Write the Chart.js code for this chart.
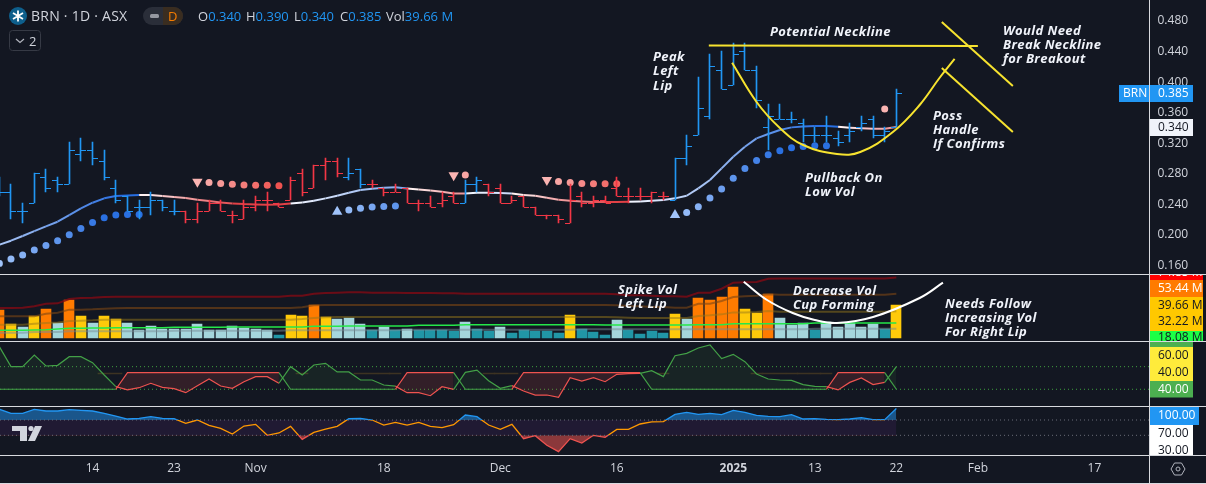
<!DOCTYPE html>
<html>
<head>
<meta charset="utf-8">
<script src="https://cdn.jsdelivr.net/npm/chart.js@4"></script>
<style>
  html, body { margin: 0; padding: 0; background: #131722; overflow: hidden; }
  #wrap { position: relative; width: 1206px; height: 484px; font-family: "Open Sans", sans-serif; }
  #chart { position: absolute; left: 0; top: 0; }
  .hd { position: absolute; white-space: nowrap; color: #d1d4dc; font-size: 13px; line-height: 18px; top: 7px; }
  .v { color: #2196f3; }
</style>
</head>
<body>
<div id="wrap">
  <canvas id="chart" width="1206" height="484"></canvas>
  <svg style="position:absolute;left:0;top:0" width="190" height="54">
    <circle cx="18" cy="16" r="9" fill="#0e5f8c"/>
    <path d="M18 10.5v11M13 13l10 6M23 13l-10 6" stroke="#fff" stroke-width="1.8"/>
    <rect x="143" y="7" width="40" height="18" rx="9" fill="#2a2e39"/>
    <path d="M163 7h11a9 9 0 0 1 0 18h-11z" fill="#3a2d20"/>
    <rect x="150" y="14" width="9" height="4" rx="1.5" fill="#9598a1"/>
    <rect x="9.5" y="30.5" width="31" height="20" rx="3" fill="none" stroke="#363a45"/>
    <path d="M16 39l4 3.5 4-3.5" fill="none" stroke="#b2b5be" stroke-width="1.2"/>
  </svg>
  <div class="hd" style="left:31px;font-size:14px;letter-spacing:.25px">BRN · 1D · ASX</div>
  <div class="hd" style="left:168px;color:#f57c00">D</div>
  <div class="hd" style="left:29px;top:32px">2</div>
  <div class="hd" style="left:198px">O<span class="v">0.340</span></div>
  <div class="hd" style="left:246px">H<span class="v">0.390</span></div>
  <div class="hd" style="left:294px">L<span class="v">0.340</span></div>
  <div class="hd" style="left:340px">C<span class="v">0.385</span></div>
  <div class="hd" style="left:386px">Vol<span class="v">39.66 M</span></div>
</div>
<script>
/*globals Chart*/
var _ = null;

// x axis: bar number of each date label
var tickBars = [8, 15, 22, 33, 43, 53, 63, 70, 77, 84, 94];
var tickNames = ["14", "23", "Nov", "18", "Dec", "16", "2025", "13", "22", "Feb", "17"];

var priceTicks = [0.16, 0.2, 0.24, 0.28, 0.32, 0.36, 0.4, 0.44, 0.48];

var opens = [.26,.255,.23,.24,.275,.27,.265,.305,.31,.295,.26,.25,.235,.235,.245,.23,.23,.22,.23,.24,.225,.22,.235,.245,.24,.245,.28,.26,.29,.295,.275,.285,.265,.26,.255,.26,.24,.24,.24,.25,.24,.265,.265,.26,.24,.25,.235,.225,.225,.215,.25,.24,.245,.26,.25,.25,.25,.25,.245,.30,.33,.355,.415,.395,.44,.415,.34,.35,.35,.345,.33,.33,.325,.33,.34,.35,.33,.34];
var highs = [.275,.265,.24,.28,.285,.275,.32,.325,.32,.31,.27,.25,.245,.255,.245,.245,.23,.24,.245,.245,.23,.245,.25,.255,.24,.275,.285,.29,.30,.30,.30,.285,.27,.26,.265,.26,.245,.25,.255,.255,.27,.275,.265,.265,.25,.25,.235,.225,.225,.265,.255,.25,.25,.275,.26,.26,.255,.255,.30,.33,.405,.435,.44,.45,.45,.42,.37,.37,.36,.35,.34,.355,.335,.345,.355,.355,.34,.39];
var lows = [.25,.22,.215,.24,.255,.255,.265,.295,.29,.27,.24,.23,.22,.225,.23,.225,.215,.215,.23,.23,.215,.22,.23,.23,.235,.245,.25,.26,.27,.275,.27,.26,.26,.25,.255,.24,.23,.235,.235,.24,.24,.255,.25,.24,.24,.235,.225,.22,.215,.215,.235,.235,.24,.25,.24,.245,.24,.245,.245,.29,.33,.35,.39,.395,.415,.365,.31,.35,.345,.32,.32,.32,.315,.32,.335,.325,.32,.34];
var closes = [.255,.23,.23,.28,.26,.265,.31,.31,.30,.275,.245,.23,.235,.245,.235,.23,.22,.23,.24,.23,.225,.235,.245,.245,.235,.27,.255,.29,.295,.28,.28,.265,.265,.255,.255,.24,.24,.235,.245,.24,.265,.27,.255,.24,.245,.235,.225,.225,.22,.245,.24,.245,.24,.25,.25,.25,.255,.25,.30,.315,.365,.42,.39,.435,.415,.375,.355,.35,.35,.33,.33,.33,.32,.335,.345,.33,.335,.385];
// bars painted blue, the rest are red
var blueBars = [0,1,2,3,4,5,6,7,8,9,10,11,12,13,14,15,30,31,40,41,58,59,60,61,62,63,64,65,66,67,68,69,70,71,72,73,74,75,76,77];

var maLine = [.186,.1912,.1973,.2038,.2099,.216,.2247,.2335,.2409,.2466,.2496,.2505,.2509,.2509,.2496,.2483,.247,.2448,.2431,.2413,.24,.2391,.2387,.2383,.2387,.24,.2413,.2435,.2466,.25,.254,.2575,.2592,.2605,.261,.2596,.2583,.257,.2553,.2531,.2531,.254,.254,.2535,.2531,.2509,.25,.2474,.2448,.2435,.2426,.2418,.2418,.2418,.2422,.2426,.2435,.2444,.2466,.25,.2597,.2706,.2858,.3011,.3142,.3251,.3308,.336,.3395,.3408,.3413,.3413,.3404,.3391,.3382,.3378,.3378,.34];
// bars where the ma trend flips, starting with an up run that began off screen
var maFlips = [-6, 12, 25, 35, 40, 44, 54, 72, 77];

var upDots = [.1615,.1672,.1724,.1789,.185,.1911,.199,.2073,.2151,.2213,.2247,.2256,.2256,_,_,_,_,_,_,_,_,_,_,_,_,_,_,_,_,.2291,.2313,.2335,.2352,.2361,.2365,_,_,_,_,_,_,_,_,_,_,_,_,_,_,_,_,_,_,_,_,_,_,_,.2247,.2282,.2357,.247,.2588,.2728,.2858,.2963,.3037,.309,.3129,.3146,.3155,.3155,_,_,_,_,_,_];
var downDots = [_,_,_,_,_,_,_,_,_,_,_,_,_,_,_,_,_,.2684,.2675,.2662,.2649,.264,.2636,.2636,.2631,_,_,_,_,_,_,_,_,_,_,_,_,_,_,.2767,.2771,_,_,_,_,_,_,.2705,.2688,.2675,.2662,.2658,.2658,.2658,_,_,_,_,_,_,_,_,_,_,_,_,_,_,_,_,_,_,_,_,_,_,.3635,_];

var neckX = [60.9, 84];
var neckY = [.4466, .446];
var cupX = [62.9, 65, 67, 69, 71.9, 73.9, 76.7, 79, 80.7, 82];
var cupY = [.4241, .3727, .3387, .3164, .3046, .3072, .3334, .3688, .4041, .429];
var slashX = [80.9, 87];
var slashTopY = [.4774, .3936];
var slashLowY = [.4172, .3334];

var volumes = [33.4,16.5,13.3,26.6,34.7,17.7,45.5,26.2,17.7,26.2,22.6,17.7,9.3,14.1,10.5,10.5,10.5,16.5,9.3,9.3,14.1,11.7,10.5,9.3,3.2,27.4,26.2,39.5,25,22.6,23.8,16.5,9.3,12.9,9.7,10.5,9.7,9.7,9.7,8.1,18.9,10.5,8.1,12.9,5.6,9.3,8.1,8.1,5.6,27.4,10.5,6.9,3.2,21.4,9.3,4.4,8.1,5.6,28.6,22.6,48,45.5,49.2,61.3,34.7,29.8,52.8,23.8,15.3,17.7,9.3,18.9,12.9,17.7,12.9,16.5,10.5,39.66];
// 0 low, 1 normal, 2 high, 3 very high
var volClass = [3,2,1,2,3,1,3,2,1,2,2,1,1,1,1,1,1,1,1,1,1,1,1,1,0,2,2,3,2,1,1,1,0,1,0,1,0,0,0,0,1,0,0,1,0,0,0,0,0,2,0,0,0,1,0,0,0,0,2,1,3,3,3,3,2,2,3,1,1,1,0,1,1,1,1,1,0,2];
var volRed = [36.3,36.3,36.7,38.3,41.5,41.9,47.2,48.4,48.8,49.6,50,50,50,50,50,50,50,50,50,50,50,50,50,50,50,51.2,51.2,53.6,54.4,54.8,55.2,55.2,54.8,54.8,54.8,54.4,54.4,54.4,54,54,53.6,53.6,53.6,53.6,53.6,53.6,53.6,53.6,53.6,53.6,53.6,53.6,53.6,52.8,51.6,51.6,51.2,50.4,50.4,50,54.8,54.8,59.6,66.9,67.3,67.7,71.7,72.1,72.1,72.1,72.1,72.1,72.1,72.1,72.1,72.1,72.1,73.3];
var volOrange = [26.2,26.2,26.2,26.2,29.4,30.6,34.3,34.3,34.7,35.5,35.9,36.3,36.3,36.3,36.3,36.3,36.3,36.3,36.3,36.3,36.3,36.3,36.3,36.3,36.3,36.3,37.1,39.5,39.9,39.9,39.9,39.9,39.9,39.9,39.9,39.9,39.9,39.9,39.9,39.9,39.9,39.9,39.9,39.9,39.9,39.9,39.9,39.9,39.9,39.9,39.9,39.9,39.9,39.5,38.7,38.3,37.5,37.5,36.7,36.7,41.5,41.5,44.7,49.6,50.4,51.2,52.8,52.4,52.4,52.4,52.4,52.4,52.4,52.4,52.4,52.4,52.4,53.44];
var volYellow = [16.1,16.1,16.1,17.3,18.1,18.9,20.6,21,21.4,22.2,22.2,22.2,22.2,22.2,22.2,22.2,22.2,22.2,22.2,22.2,22.2,22.2,22.2,22.2,22.2,22.2,23,24.2,25,25.4,25.4,25.4,25.4,25.4,25.4,25.4,25.4,25.4,25.4,25.4,25.4,25.4,25.4,25.4,25.4,25.4,25.4,25.4,25.4,25.4,25.4,25.4,25.4,25,24.6,24.2,24.2,24.2,24.2,24.2,26.6,27.4,28.6,31,31,31.4,32.6,31.8,31.8,31.8,31.8,31.8,31.8,31.8,31.8,31.8,31.8,32.22];
var volGreen = [9.3,9.3,9.3,9.7,10.1,10.9,11.7,11.7,12.1,12.1,12.5,12.5,12.5,12.5,12.5,12.9,12.9,12.9,12.9,12.9,13.3,13.3,13.3,13.3,13.3,13.3,13.3,14.1,14.1,14.1,14.5,14.5,14.5,14.5,14.5,14.5,15.3,15.3,15.3,15.3,16.1,16.1,16.1,16.1,16.1,16.1,16.1,16.1,16.1,16.1,16.1,16.1,15.7,15.7,15.7,15.7,15.7,15.7,15.7,15.7,16.1,16.1,16.1,17.3,17.3,17.3,17.3,17.3,17.3,17.3,18.1,18.1,18.1,18.1,18.1,18.1,18.1,18.08];
var volGrey = [6.4,6.4,6.4,7.3,7.3,7.3,8.1,8.1,8.1,8.1,8.1,8.1,8.1,8.1,8.1,8.9,8.9,8.9,8.9,8.9,8.9,8.9,8.9,8.9,8.9,9.3,9.3,9.3,9.3,9.3,9.3,9.3,9.3,9.3,9.3,10.1,10.1,10.1,10.1,10.1,10.1,10.1,10.1,10.1,10.1,10.1,10.1,10.1,10.1,10.1,10.5,10.5,10.5,10.5,10.5,10.5,10.5,10.5,10.5,10.5,10.5,10.5,10.5,10.5,10.5,10.5,10.5,10.5,10.5,10.5,11.3,11.3,11.3,11.3,11.3,11.3,11.3,11.3];
var volCurveX = [63.9, 65.9, 68.1, 70, 71.9, 75, 79, 81];
var volCurveY = [68.1, 46, 30.3, 21.8, 18.2, 25.4, 48.4, 66.9];

var dmiMain = [77.7,60,60,70.3,60.6,61.2,68.8,68.8,63.5,52.6,42.3,39.4,41.4,45.3,41.7,40.5,37,43.2,49.1,42.9,40.8,46.7,51.2,51.2,45.3,60,52.6,61.5,62.9,55.3,55.3,48.2,48.2,43.8,42.8,37,37,34.3,42.3,39.9,55,57,47.6,40.8,43.2,38.5,34.9,34.9,32.9,50.3,47.3,50.3,46.7,53.2,53.8,54.1,56.5,51.2,69.7,71.8,76.5,79.2,67.1,70.9,64.4,53.5,49.1,48.2,47.9,44.1,42.6,42.3,39.4,46.1,50,44.1,46.1,60];
var dmiBase = [40,40,40,40,40,40,40,40,40,40,40,54.7,54.7,54.7,54.7,54.7,54.7,54.7,54.7,54.7,54.7,54.7,54.7,54.7,54.7,40,40,40,40,40,40,40,40,40,40,54.7,54.7,54.7,54.7,54.7,40,40,40,40,40,54.7,54.7,54.7,54.7,54.7,54.7,54.7,54.7,54.7,54.7,54.7,40,40,40,40,40,40,40,40,40,40,40,40,40,40,40,40,54.7,54.7,54.7,54.7,54.7,40];
var dmiShade = [_,_,_,_,_,_,_,_,_,54,54,_,_,_,_,_,_,_,_,_,_,_,_,_,_,_,54,_,_,_,_,54,54,54,54,_,_,_,_,_,_,_,54,54,54,_,_,_,_,_,_,_,_,_,_,_,_,54,_,_,_,_,_,_,_,54,54,54,54,54,54,54,_,_,_,_,_,_];
var dmiLevels = [60, 40];

var rsiLine = [97.9,87.4,87.4,97.9,93.5,93.5,97,95.2,93.5,87.4,80.4,72.6,74.4,78.7,74.4,73.5,61.3,70,56.1,48.2,33.4,54.3,58.7,30,36.1,53.5,19.5,37.8,46.5,53.5,73.5,74.4,70,56.9,63.9,56.9,63.9,53.5,50,57.8,83.1,78.7,56.9,45.6,58.7,21.3,29.1,3.9,-12.7,21.3,9.9,30,24.8,45.6,45.6,59.6,65,65.7,84.8,90,84.8,87.4,84,95.2,90,82.2,79.6,78.7,83.9,72.6,73.5,71.7,70.9,72.6,76.1,70.9,70.9,100];
var rsiLevels = [70, 30];

var volColors = ["#2196a6", "#a5d6dc", "#ffca0a", "#ff7b00"];
var xMin = 0.056, xMax = 98.73;
var blue = "#2196f3", red = "#f23645";

function toXY(arr) {
    return arr.map(function (y, i) { return {x: i, y: y}; });
}
function pairXY(xs, ys) {
    return xs.map(function (x, i) { return {x: x, y: ys[i]}; });
}
function mix(a, b, t) {
    var out = [];
    for (let i = 0; i < 3; i++) { out.push(Math.round(a[i] + (b[i] - a[i]) * t)); }
    return "rgb(" + out.join(",") + ")";
}

function maColor(ctx) {
    let i = ctx.p0DataIndex, run = 0, up = true;
    for (let k = 0; k < maFlips.length; k++) {
        if (maFlips[k] <= i) { run = i - maFlips[k]; up = k % 2 == 0; }
    }
    return up ? mix([240, 244, 255], [40, 110, 225], Math.min(1, run / 16))
              : mix([255, 240, 240], [225, 65, 70], Math.min(1, run / 8));
}

// dots get stronger the longer the run goes on
function dotRun(arr, i) {
    let n = 0;
    while (i - n - 1 >= 0 && arr[i - n - 1] !== null) { n++; }
    return n;
}
function isTriangle(arr, i) {
    return i > 0 && arr[i - 1] === null && arr[i + 1] !== null && arr[i + 1] !== undefined;
}
function lineSet(data, yAxisID, color, width, order, extra) {
    return Object.assign({type: "line", data: data, yAxisID: yAxisID, borderColor: color, borderWidth: width,
        pointRadius: 0, tension: 0, fill: false, order: order}, extra || {});
}
function levelSet(value, yAxisID, color) {
    return lineSet(pairXY([xMin, xMax], [value, value]), yAxisID, color, 1, 20, {borderDash: [1, 3]});
}
function rsiGradient(ctx) {
    let chart = ctx.chart, s = chart.scales.yRsi;
    if (!s || !chart.chartArea || !isFinite(s.top) || !isFinite(s.bottom)) { return blue; }
    let g = chart.ctx.createLinearGradient(0, s.top, 0, s.bottom);
    let a = (s.getPixelForValue(70) - s.top) / s.height, b = (s.getPixelForValue(30) - s.top) / s.height;
    g.addColorStop(0, blue); g.addColorStop(a, blue);
    g.addColorStop(a, "#ff9800"); g.addColorStop(b, "#ff9800");
    g.addColorStop(b, "#ef5350"); g.addColorStop(1, "#ef5350");
    return g;
}
function dmiColor(ctx) {
    return dmiBase[ctx.p1DataIndex] > 40 ? "#ef5350" : "#43a047";
}
function dmiFill(ctx) {
    return dmiBase[ctx.p1DataIndex] > 40 ? "rgba(239,83,80,0.14)" : "rgba(76,175,80,0.09)";
}
function barSet(data, yAxisID, color, thick, order) {
    return {type: "bar", data: data, yAxisID: yAxisID, backgroundColor: color, barThickness: thick, grouped: false, order: order};
}

var datasets = [
    // price pane
    lineSet(toXY(maLine), "y", "#fff", 2, 8, {segment: {borderColor: maColor}}),
    barSet(highs.map(function (h, i) { return {x: i, y: [lows[i], h]}; }), "y",
        function (c) { return blueBars.includes(c.dataIndex) ? blue : red; }, 1, 6),
    lineSet(toXY(upDots), "y", "transparent", 0, 7, {
        pointRadius: function (c) { return isTriangle(upDots, c.dataIndex) ? 6 : 3.5; },
        pointStyle: function (c) { return isTriangle(upDots, c.dataIndex) ? "triangle" : "circle"; },
        pointBorderWidth: 0,
        pointBackgroundColor: function (c) { return mix([160, 195, 250], [42, 112, 225], Math.min(1, dotRun(upDots, c.dataIndex) / 9)); }
    }),
    lineSet(toXY(downDots), "y", "transparent", 0, 7, {
        pointRadius: function (c) { return isTriangle(downDots, c.dataIndex) ? 6 : 3.5; },
        pointStyle: function (c) { return isTriangle(downDots, c.dataIndex) ? "triangle" : "circle"; },
        pointRotation: function (c) { return isTriangle(downDots, c.dataIndex) ? 180 : 0; },
        pointBorderWidth: 0,
        pointBackgroundColor: function (c) { return mix([250, 180, 178], [239, 83, 80], Math.min(1, dotRun(downDots, c.dataIndex) / 7)); }
    }),
    lineSet(pairXY(neckX, neckY), "y", "#f7e32f", 2, 1),
    lineSet(pairXY(cupX, cupY), "y", "#f7e32f", 2, 1, {tension: 0.4}),
    lineSet(pairXY(slashX, slashTopY), "y", "#f7e32f", 2, 1),
    lineSet(pairXY(slashX, slashLowY), "y", "#f7e32f", 2, 1),
    // volume pane
    barSet(toXY(volumes), "yVol", function (c) { return volColors[volClass[c.dataIndex]]; }, 10, 12),
    lineSet(toXY(volRed), "yVol", "rgba(130,10,20,0.8)", 2, 11),
    lineSet(toXY(volOrange), "yVol", "rgba(125,70,20,0.6)", 2, 11),
    lineSet(toXY(volYellow), "yVol", "rgba(150,120,25,0.5)", 2, 11),
    lineSet(toXY(volGrey), "yVol", "rgba(120,140,150,0.5)", 2, 11),
    lineSet(toXY(volGreen), "yVol", "#25e84a", 1.5, 10),
    lineSet(pairXY(volCurveX, volCurveY), "yVol", "#ffffff", 2, 1, {tension: 0.4}),
    // dmi pane, main line fills down to the base line
    lineSet(toXY(dmiMain), "yDmi", "#43a047", 1.2, 15, {fill: "+1", backgroundColor: "rgba(76,175,80,0.09)",
        segment: {borderColor: dmiColor, backgroundColor: dmiFill}}),
    lineSet(toXY(dmiBase), "yDmi", "#43a047", 1.2, 15, {segment: {borderColor: dmiColor}}),
    barSet(dmiShade.map(function (v, i) { return {x: i, y: v === null ? null : [v - 0.8, v + 0.7]}; }), "yDmi", "#3d3322", 12, 18),
    levelSet(dmiLevels[0], "yDmi", "#3f9f3f"),
    levelSet(dmiLevels[1], "yDmi", "#3f9f3f"),
    // rsi pane
    lineSet(toXY(rsiLine.map(function () { return rsiLevels[0]; })), "yRsi", "transparent", 0, 25,
        {fill: {target: {value: rsiLevels[1]}}, backgroundColor: "#201a33"}),
    lineSet(toXY(rsiLine), "yRsi", "transparent", 0, 24,
        {fill: {target: {value: rsiLevels[0]}, above: "rgba(33,150,243,0.5)", below: "transparent"}}),
    lineSet(toXY(rsiLine), "yRsi", "transparent", 0, 24,
        {fill: {target: {value: rsiLevels[1]}, above: "transparent", below: "rgba(239,83,80,0.55)"}}),
    lineSet(toXY(rsiLine), "yRsi", rsiGradient, 1.3, 22),
    levelSet(rsiLevels[0], "yRsi", "#6a6d78"),
    levelSet(rsiLevels[1], "yRsi", "#6a6d78")
];

// hand drawn notes on the chart
var notes = [
    ["Potential Neckline", 770, 36],
    ["Peak", 653, 61], ["Left", 653, 75], ["Lip", 653, 90],
    ["Would Need", 1003, 35], ["Break Neckline", 1003, 49], ["for Breakout", 1003, 63],
    ["Poss", 933, 120], ["Handle", 933, 134], ["If Confirms", 933, 148],
    ["Pullback On", 805, 182], ["Low Vol", 805, 196],
    ["Spike Vol", 618, 294], ["Left Lip", 618, 308],
    ["Decrease Vol", 793, 295], ["Cup Forming", 793, 309],
    ["Needs Follow", 945, 308], ["Increasing Vol", 945, 322], ["For Right Lip", 945, 336]
];

// labels on the right column: text, x, middle y, box top, box bottom, right, fill, text colour, pane top, pane bottom
var tags = [
    ["74.85 M", 1158, 273, 274, 280, 1203, "#ff0000", "#fff", 274, 280],
    ["53.44 M", 1158, 289, 280, 297, 1203, "#ff7b00", "#fff", 274, 341],
    ["39.66 M", 1158, 306, 297, 314, 1203, "#ffc800", "#131722", 274, 341],
    ["32.22 M", 1158, 322, 314, 331, 1203, "#ffc800", "#131722", 274, 341],
    ["18.08 M", 1158, 338, 331, 341, 1203, "#1cff46", "#131722", 274, 341],
    ["60.00", 1158, 339, 341, 347, 1193, "#4caf50", "#fff", 341, 347],
    ["60.00", 1158, 356, 347, 364, 1193, "#ffeb3b", "#131722", 341, 406],
    ["40.00", 1158, 373, 364, 381, 1193, "#ffeb3b", "#131722", 341, 406],
    ["40.00", 1158, 390, 381, 397.5, 1193, "#4caf50", "#fff", 341, 406],
    ["100.00", 1158, 416, 407, 425, 1199, "#2196f3", "#fff", 406, 455],
    ["70.00", 1158, 434, 425, 442, 1193, "#ffffff", "#131722", 406, 455],
    ["30.00", 1158, 451, 442, 455, 1193, "#ffffff", "#131722", 406, 455],
    ["0.385", 1158, 93.5, 85, 102, 1193, "#2196f3", "#fff", 0, 274],
    ["0.340", 1158, 127.5, 119, 136, 1193, "#f0f3fa", "#131722", 0, 274]
];

// price tick marks and pixel snapping, chart.js has no ohlc type
var ohlcPlugin = {
    id: "ohlc",
    beforeDatasetsDraw: function (chart) {
        [1, 8, 17].forEach(function (ds) {
            chart.getDatasetMeta(ds).data.forEach(function (el) {
                let w = el.width;
                el.x = w % 2 ? Math.floor(el.x) + 0.5 : Math.round(el.x);
                el.y = Math.round(el.y);
                el.base = Math.round(el.base);
            });
        });
    },
    afterDatasetDraw: function (chart, args) {
        if (args.index != 1) { return; }
        let ctx = chart.ctx, sc = chart.scales.y, area = chart.chartArea;
        let meta = chart.getDatasetMeta(1);
        ctx.save();
        ctx.beginPath();
        ctx.rect(area.left, sc.top, area.width, sc.height);
        ctx.clip();
        for (let i = 0; i < opens.length; i++) {
            let x = Math.floor(meta.data[i].x);
            ctx.fillStyle = blueBars.includes(i) ? blue : red;
            ctx.fillRect(x - 5, Math.round(sc.getPixelForValue(opens[i])), 5, 1);
            ctx.fillRect(x + 1, Math.round(sc.getPixelForValue(closes[i])), 5, 1);
        }
        ctx.restore();
    },
    afterDraw: function (chart) {
        let ctx = chart.ctx;
        ctx.save();
        // notes
        ctx.font = "italic bold 13px 'Open Sans'";
        ctx.letterSpacing = "0.4px";
        ctx.fillStyle = "#f0f3fa";
        ctx.textAlign = "left";
        ctx.textBaseline = "alphabetic";
        notes.forEach(function (n) { ctx.fillText(n[0], n[1], n[2]); });
        ctx.letterSpacing = "0px";
        // tags
        ctx.font = "12px 'Open Sans'";
        ctx.textBaseline = "middle";
        ctx.fillStyle = "#2196f3";
        ctx.fillRect(1119, 85, 31, 17);
        ctx.fillStyle = "#fff";
        ctx.fillText("BRN", 1123, 93.5);
        tags.forEach(function (t) {
            ctx.save();
            ctx.beginPath();
            ctx.rect(1150, t[8], 56, t[9] - t[8]);
            ctx.clip();
            ctx.fillStyle = t[6];
            ctx.fillRect(1150, t[3], t[5] - 1150, t[4] - t[3]);
            ctx.fillStyle = t[7];
            ctx.fillText(t[0], t[1], t[2]);
            ctx.restore();
        });
        // pane borders
        ctx.fillStyle = "#d8dadf";
        [274, 341, 406, 455, 483].forEach(function (y) { ctx.fillRect(0, y, 1206, 1); });
        ctx.fillRect(1149, 0, 1, 484);
        // watermark
        ctx.fillStyle = "#d1d4dc";
        ctx.fillRect(12, 426, 15, 5);
        ctx.fillRect(20, 426, 7, 15);
        ctx.beginPath();
        ctx.arc(31, 428.5, 2.6, 0, Math.PI * 2);
        ctx.fill();
        ctx.beginPath();
        ctx.moveTo(35, 426); ctx.lineTo(42, 426); ctx.lineTo(35, 441); ctx.lineTo(28, 441);
        ctx.closePath();
        ctx.fill();
        // settings hexagon
        ctx.strokeStyle = "#b2b5be";
        ctx.lineWidth = 1;
        ctx.beginPath();
        ctx.moveTo(1171, 469); ctx.lineTo(1174.5, 463); ctx.lineTo(1181.5, 463);
        ctx.lineTo(1185, 469); ctx.lineTo(1181.5, 475); ctx.lineTo(1174.5, 475);
        ctx.closePath();
        ctx.stroke();
        ctx.beginPath();
        ctx.arc(1178, 469, 2, 0, Math.PI * 2);
        ctx.stroke();
        ctx.restore();
    }
};

function paneAxis(min, max, weight, extra) {
    return Object.assign({
        type: "linear", position: "right", stack: "panes", stackWeight: weight, min: min, max: max,
        grid: {display: false, drawTicks: false}, border: {display: false},
        ticks: {display: false},
        afterFit: function (s) { s.width = 56.5; s.paddingTop = 0; s.paddingBottom = 0; }
    }, extra || {});
}

new Chart(document.getElementById("chart"), {
    type: "bar",
    data: {datasets: datasets},
    plugins: [ohlcPlugin],
    options: {
        responsive: false,
        animation: false,
        devicePixelRatio: 1,
        events: [],
        layout: {padding: 0, autoPadding: false},
        plugins: {legend: {display: false}, tooltip: {enabled: false}},
        scales: {
            x: {
                type: "linear", min: xMin, max: xMax, offset: false,
                grid: {display: false, drawTicks: false}, border: {display: false},
                afterBuildTicks: function (s) { s.ticks = tickBars.map(function (v) { return {value: v}; }); },
                afterFit: function (s) { s.height = 29; s.paddingLeft = 0; s.paddingRight = 0; },
                ticks: {
                    autoSkip: false, maxRotation: 0, minRotation: 0, padding: 6, color: "#d1d4dc",
                    font: function (c) {
                        return {family: "'Open Sans'", size: 12, weight: c.tick && c.tick.value == 63 ? "bold" : "normal"};
                    },
                    callback: function (v) { return tickNames[tickBars.indexOf(v)]; }
                }
            },
            y: paneAxis(0.1476, 0.5062, 274, {
                afterBuildTicks: function (s) { s.ticks = priceTicks.map(function (v) { return {value: v}; }); },
                ticks: {
                    display: true, padding: 8, labelOffset: 1, color: "#d1d4dc", font: {family: "'Open Sans'", size: 12},
                    callback: function (v) { return v.toFixed(3); }
                }
            }),
            yVol: paneAxis(-3.6, 77.4, 67),
            yDmi: paneAxis(25.2, 82.7, 65),
            yRsi: paneAxis(-21.4, 106.6, 49)
        }
    }
});
</script>
</body>
</html>
